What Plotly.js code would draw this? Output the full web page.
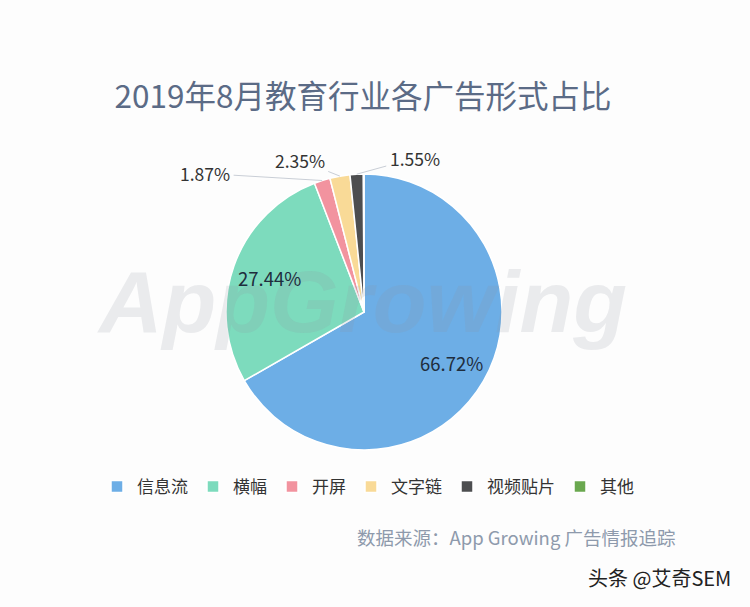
<!DOCTYPE html>
<html><head><meta charset="utf-8">
<script src="https://cdn.plot.ly/plotly-3.0.1.min.js"></script>
<style>html,body{margin:0;padding:0;background:#fdfdfd}</style>
</head><body><div id="chart" style="width:750px;height:607px"></div>
<script>
const categories = ['信息流', '横幅', '开屏', '文字链', '视频贴片', '其他'];
const shares = [66.72, 27.44, 1.87, 2.35, 1.55, 0.07];
const sliceColors = ['#6daee6', '#7ddbbd', '#f2939f', '#f9da97', '#4d4e50', '#6aa84f'];
const labelMode = ['inside', 'inside', 'outside', 'outside', 'outside', 'none'];
const outsideOffsets = [null, null, [-117, -7], [-40, -16], [58, -16], null];

const W = 750, H = 607;
const cx = 364, cy = 312, R = 138;
const insideRadius = 0.73;
const domain = {x: [(cx - R) / W, (cx + R) / W], y: [1 - (cy + R) / H, 1 - (cy - R) / H]};
const fmt = v => v.toFixed(2) + '%';

const total = shares.reduce((a, b) => a + b, 0);
const annotations = [];
let cum = 0;
shares.forEach((v, i) => {
  const mid = (cum + v / 2) / total * 2 * Math.PI;
  cum += v;
  if (labelMode[i] === 'inside') {
    const px = cx + R * insideRadius * Math.sin(mid), py = cy - R * insideRadius * Math.cos(mid);
    annotations.push({
      xref: 'paper', yref: 'paper', x: px / W, y: 1 - py / H, xanchor: 'center', yanchor: 'middle',
      text: fmt(v), showarrow: false, font: {size: 18.5, color: '#1f2d3d'}
    });
  } else if (labelMode[i] === 'outside') {
    const off = outsideOffsets[i];
    const px = cx + R * Math.sin(mid), py = cy - R * Math.cos(mid);
    annotations.push({
      xref: 'paper', yref: 'paper', x: px / W, y: 1 - py / H,
      text: fmt(v), showarrow: true, arrowhead: 0, arrowwidth: 1, arrowcolor: '#c9ced6',
      ax: off[0], ay: off[1], standoff: 0, startstandoff: 2,
      font: {size: 17.5, color: '#333333'}
    });
  }
});

annotations.unshift({
  xref: 'paper', yref: 'paper', x: 362 / W, y: 1 - 302 / H, xanchor: 'center', yanchor: 'middle',
  text: 'AppGrowing', showarrow: false,
  font: {family: 'Liberation Sans, Arial, sans-serif', size: 88, weight: 700, style: 'italic', color: 'rgba(140,148,160,0.17)'}
});
annotations.push({
  xref: 'paper', yref: 'paper', x: 516 / W, y: 1 - 537 / H, xanchor: 'center', yanchor: 'middle',
  text: '数据来源：App Growing 广告情报追踪', showarrow: false,
  font: {size: 18.5, color: '#8e9aac'}
});
annotations.push({
  xref: 'paper', yref: 'paper', x: 659 / W, y: 1 - 577 / H, xanchor: 'center', yanchor: 'middle',
  text: '头条 @艾奇SEM', showarrow: false,
  font: {size: 20, color: '#222222'}
});

const trace = {
  type: 'pie',
  labels: categories,
  values: shares,
  textinfo: 'none',
  marker: {colors: sliceColors, line: {color: '#ffffff', width: 1.5}},
  sort: false,
  direction: 'clockwise',
  rotation: 0,
  domain: domain,
  hoverinfo: 'none',
  automargin: false
};

const layout = {
  width: W, height: H,
  margin: {l: 0, r: 0, t: 0, b: 0},
  paper_bgcolor: '#fdfdfd',
  font: {family: 'Noto Sans CJK SC, Noto Sans, sans-serif', color: '#333333'},
  title: {
    text: '2019年8月教育行业各广告形式占比',
    x: 363 / W, xanchor: 'center', y: 1 - 97 / H, yanchor: 'middle', yref: 'container',
    font: {size: 31.5, color: '#5b6b86', family: 'Noto Sans CJK SC, sans-serif'}
  },
  showlegend: true,
  legend: {
    orientation: 'h', x: 368 / W, xanchor: 'center', y: 1 - 487 / H, yanchor: 'middle',
    font: {size: 17, color: '#333333'}, itemwidth: 30, traceorder: 'normal'
  },
  annotations: annotations
};

Plotly.newPlot('chart', [trace], layout, {displayModeBar: false, staticPlot: true});
</script>
</body></html>
